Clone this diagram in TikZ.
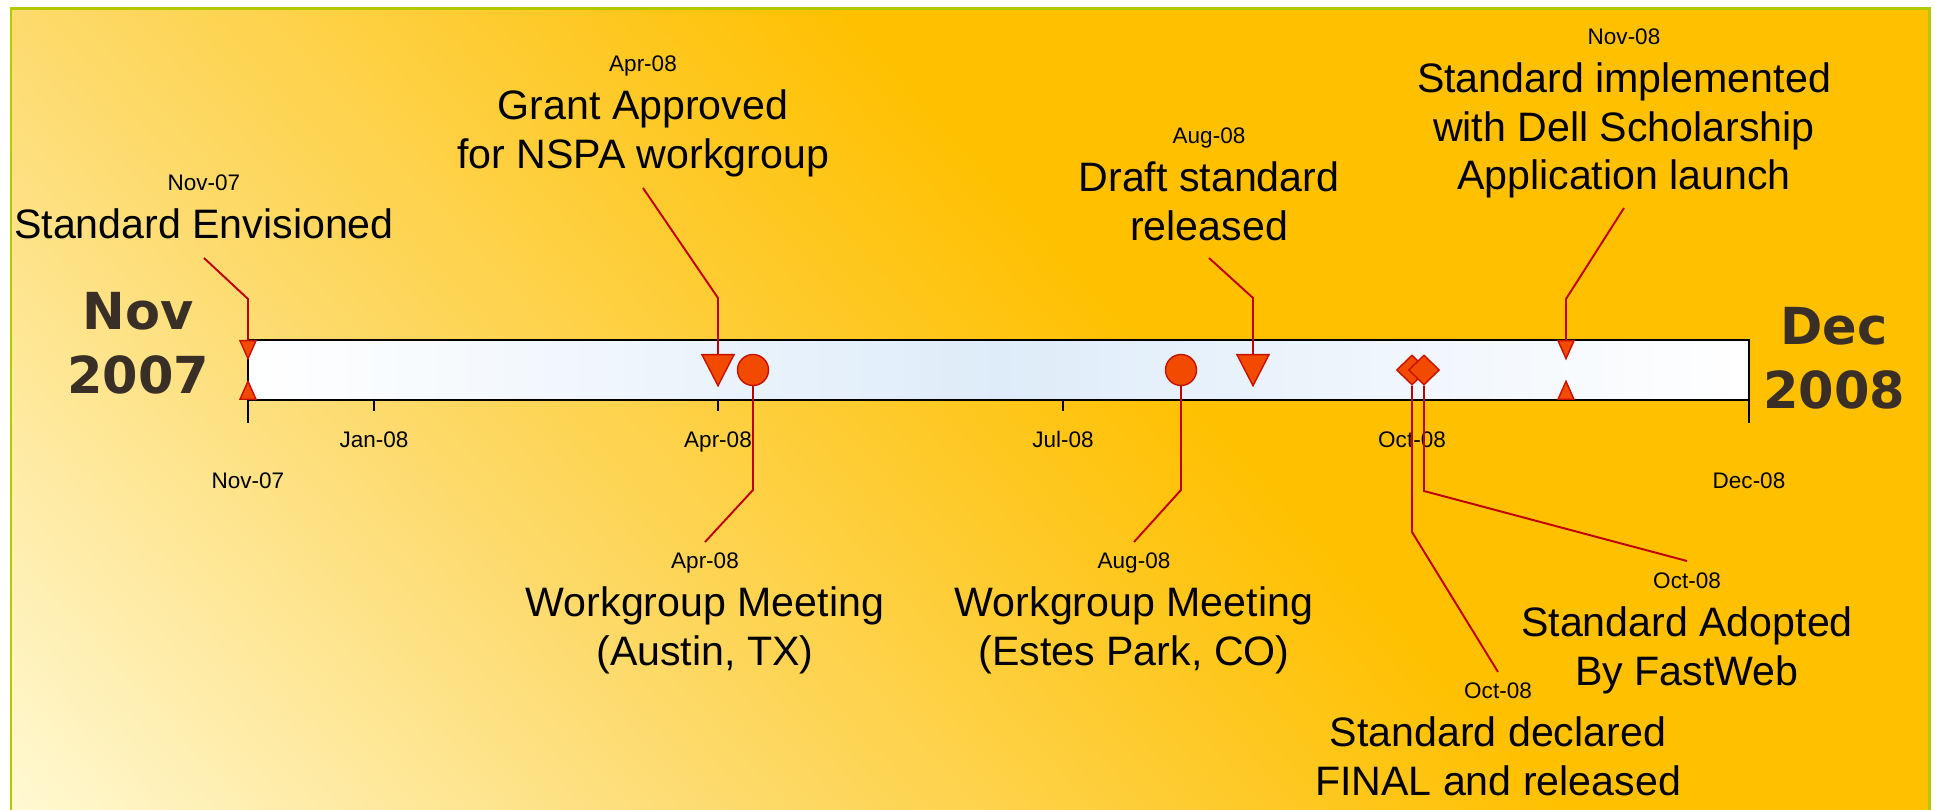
\documentclass[tikz,border=0pt]{standalone}
\usepackage{fontspec}
\setmainfont{Liberation Sans}
\newfontfamily\yearfont{DejaVu Sans}
\usepackage{tikz}
\usetikzlibrary{positioning,shapes.geometric}
\definecolor{gold}{RGB}{255,192,0}
\definecolor{straw}{RGB}{253,218,107}
\definecolor{cream}{RGB}{255,250,216}
\definecolor{framegreen}{RGB}{180,200,0}
\definecolor{barblue}{RGB}{222,236,249}
\definecolor{mkfill}{RGB}{242,74,0}
\definecolor{mkline}{RGB}{200,16,0}
\definecolor{leadred}{RGB}{192,0,0}
\definecolor{yearbrown}{RGB}{58,47,38}
\pgfdeclarehorizontalshading{bgshade}{100bp}{color(0bp)=(cream); color(27bp)=(cream); color(40bp)=(straw); color(54bp)=(gold); color(100bp)=(gold)}

\begin{document}
\begin{tikzpicture}[x=0.01cm,y=-0.01cm]
\tikzstyle{evt}=[font=\fontsize{11.7}{13.8}\selectfont, align=center, inner sep=0pt, anchor=north]
\tikzstyle{dt}=[font=\fontsize{6.4}{7.7}\selectfont, inner sep=0pt, text depth=0pt]
\tikzstyle{tk}=[dt, anchor=base]
\tikzstyle{yr}=[font=\yearfont\bfseries\fontsize{14.5}{18.2}\selectfont, text=yearbrown,
                align=center, inner sep=0pt, anchor=north]
\tikzstyle{lead}=[draw=leadred, line width=0.55pt]
\tikzstyle{mk}=[draw=mkline, fill=mkfill, line width=0.4pt, inner sep=0pt]
\tikzstyle{bigtri}=[mk, isosceles triangle, isosceles triangle stretches,
                    minimum width=0.32cm, minimum height=0.31cm]
\tikzstyle{smtri}=[mk, isosceles triangle, isosceles triangle stretches,
                   minimum width=0.16cm, minimum height=0.18cm]
\tikzstyle{dot}=[mk, circle, minimum size=0.31cm]
\tikzstyle{dia}=[mk, diamond, minimum width=0.31cm, minimum height=0.3cm]
\useasboundingbox (0,0) rectangle (1935,810);
\clip (0,0) rectangle (1935,810);
\begin{scope}
\clip (11,9) rectangle (1929,830);
\shade[shading=bgshade, transform canvas={rotate around={42:(970,405)}}] (-130,-695) rectangle (2070,1505);
\end{scope}
\draw[framegreen, line width=0.85pt] (11,830) -- (11,9) -- (1929,9) -- (1929,830);
\draw[line width=0.6pt, left color=white, right color=white, middle color=barblue] (248,340) rectangle (1749,400);
\draw[line width=0.6pt] (248,400) -- (248,423) (1749,400) -- (1749,423);
\foreach \x/\m in {374/Jan-08,718/Apr-08,1063/Jul-08,1412/Oct-08}{
  \draw[line width=0.6pt] (\x,400) -- (\x,411);
  \node[tk] (t\x) at (\x,448) {\m};
}
\node[tk] (t248) at (248,489) {Nov-07};
\node[tk] (t1749) at (1749,489) {Dec-08};
\node[yr] (nov) at (138,292) {Nov\\2007};
\node[yr] (dec) at (1834,307) {Dec\\2008};
\node[smtri, shape border rotate=270, anchor=north] (envA) at (248,340) {};
\node[smtri, shape border rotate=90, anchor=south] (envB) at (248,400) {};
\node[bigtri, shape border rotate=270, anchor=north] (grantMk) at (718,354) {};
\node[dot] (austinMk) at (753,370) {};
\node[dot] (estesMk) at (1181,370) {};
\node[bigtri, shape border rotate=270, anchor=north] (draftMk) at (1253,354) {};
\node[dia] (finalMk) at (1412,370) {};
\node[dia] (adoptMk) at (1424,370) {};
\node[smtri, shape border rotate=270, anchor=north] (dellA) at (1566,340) {};
\node[smtri, shape border rotate=90, anchor=south] (dellB) at (1566,400) {};
\node[evt] (envTxt) at (204,208) {Standard Envisioned};
\node[dt, above=0.17cm of envTxt] (envDt) {Nov-07};
\node[evt] (grantTxt) at (643,89) {Grant Approved\\for NSPA workgroup};
\node[dt, above=0.17cm of grantTxt] (grantDt) {Apr-08};
\node[evt] (draftTxt) at (1209,161) {Draft standard\\released};
\node[dt, above=0.17cm of draftTxt] (draftDt) {Aug-08};
\node[evt] (dellTxt) at (1624,62) {Standard implemented\\with Dell Scholarship\\Application launch};
\node[dt, above=0.17cm of dellTxt] (dellDt) {Nov-08};
\node[evt] (austinTxt) at (705,586) {Workgroup Meeting\\(Austin, TX)};
\node[dt, above=0.17cm of austinTxt] (austinDt) {Apr-08};
\node[evt] (estesTxt) at (1134,586) {Workgroup Meeting\\(Estes Park, CO)};
\node[dt, above=0.17cm of estesTxt] (estesDt) {Aug-08};
\node[evt] (finalTxt) at (1498,716) {Standard declared\\FINAL and released};
\node[dt, above=0.17cm of finalTxt] (finalDt) {Oct-08};
\node[evt] (adoptTxt) at (1687,606) {Standard Adopted\\By FastWeb};
\node[dt, above=0.17cm of adoptTxt] (adoptDt) {Oct-08};
\coordinate (envEnd) at (204,258);
\coordinate (grantEnd) at (643,188);
\coordinate (draftEnd) at (1209,258);
\coordinate (dellEnd) at (1624,208);
\coordinate (austinEnd) at (705,542);
\coordinate (estesEnd) at (1134,542);
\coordinate (finalEnd) at (1498,672);
\coordinate (adoptEnd) at (1687,561);
\draw[lead] (envEnd) -- (248,299) -- (envA.north);
\draw[lead] (grantEnd) -- (718,298) -- (grantMk.north);
\draw[lead] (draftEnd) -- (1253,298) -- (draftMk.north);
\draw[lead] (dellEnd) -- (1566,299) -- (dellA.north);
\draw[lead] (austinMk.south) -- (753,490) -- (austinEnd);
\draw[lead] (estesMk.south) -- (1181,490) -- (estesEnd);
\draw[lead] (finalMk.south) -- (1412,532) -- (finalEnd);
\draw[lead] (adoptMk.south) -- (1424,491) -- (adoptEnd);
\end{tikzpicture}
\end{document}
